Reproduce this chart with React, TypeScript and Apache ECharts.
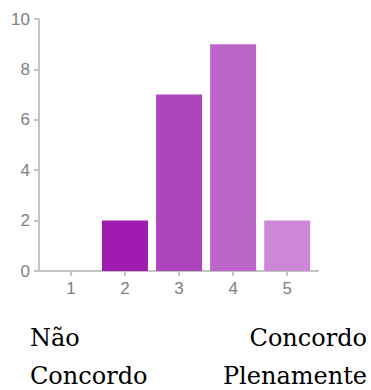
import React, { useEffect, useRef } from "react";
import * as echarts from "echarts";

// Response counts per rating on a 1–5 agreement scale
const ratings = [1, 2, 3, 4, 5];
const counts = [0, 2, 7, 9, 2];
const barColors = ["#a01cb0", "#a01cb0", "#ae45be", "#bd66ca", "#cc88d6"];
const yTicks = { min: 0, max: 10, step: 2 };
const lowLabel = ["Não", "Concordo"];
const highLabel = ["Concordo", "Plenamente"];

const captionStyle: React.CSSProperties = {
  position: "absolute",
  top: 319,
  fontFamily: "'DejaVu Serif', 'Liberation Serif', serif",
  fontSize: 24,
  lineHeight: "38px",
  color: "#000",
  whiteSpace: "nowrap",
};

export default function App() {
  const ref = useRef<HTMLDivElement>(null);

  useEffect(() => {
    if (!ref.current) return;
    const chart = echarts.init(ref.current, null, { renderer: "svg" });
    const axisGray = "#c4c4c4";
    const labelGray = "#808080";
    const sans = "Liberation Sans";

    chart.setOption({
      animation: false,
      grid: { left: 39, right: 53, top: 19, bottom: 119 },
      xAxis: {
        type: "value",
        min: 0.41,
        max: 5.57,
        splitLine: { show: false },
        axisLine: { show: true, onZero: false, lineStyle: { color: axisGray, width: 2 } },
        axisTick: {
          show: true,
          length: 5,
          customValues: ratings,
          lineStyle: { color: axisGray, width: 2 },
        },
        axisLabel: {
          customValues: ratings,
          color: labelGray,
          fontSize: 17,
          fontFamily: sans,
          margin: 9,
        },
      },
      yAxis: {
        type: "value",
        min: yTicks.min,
        max: yTicks.max,
        interval: yTicks.step,
        splitLine: { show: false },
        axisLine: { show: true, lineStyle: { color: axisGray, width: 2 } },
        axisTick: { show: true, length: 5, lineStyle: { color: axisGray, width: 2 } },
        axisLabel: {
          color: labelGray,
          fontSize: 17,
          fontFamily: sans,
          margin: 9,
        },
      },
      series: [
        {
          type: "bar",
          barWidth: 46,
          data: ratings.map((r, i) => ({
            value: [r, counts[i]],
            itemStyle: { color: barColors[i] },
          })),
        },
      ],
    });
    return () => chart.dispose();
  }, []);

  return (
    <div style={{ position: "absolute", left: 0, top: 0, width: 371, height: 390 }}>
      <div ref={ref} style={{ position: "absolute", left: 0, top: 0, width: 371, height: 390 }} />
      <div style={{ ...captionStyle, left: 30, textAlign: "left" }}>
        {lowLabel[0]}
        <br />
        {lowLabel[1]}
      </div>
      <div style={{ ...captionStyle, right: 4, textAlign: "right" }}>
        {highLabel[0]}
        <br />
        {highLabel[1]}
      </div>
    </div>
  );
}
